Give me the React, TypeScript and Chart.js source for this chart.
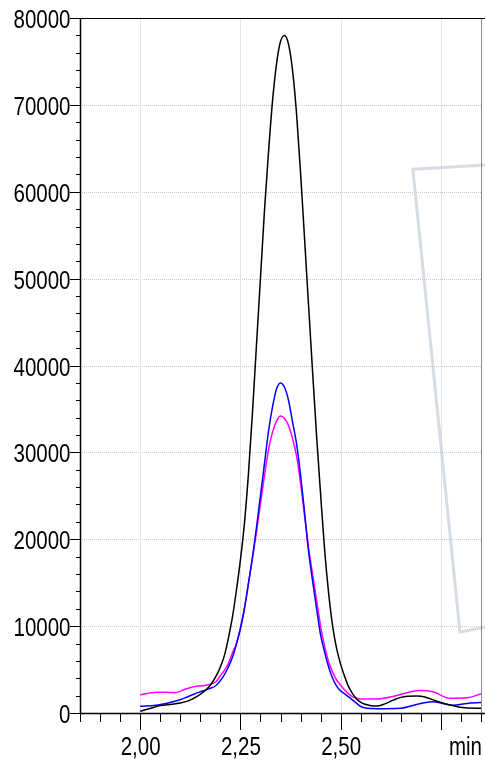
import { useEffect, useRef } from 'react';
import { Chart, registerables } from 'chart.js';
Chart.register(...registerables);

// Retention time (min) and signal for each trace
const blackTimes = [2.0, 2.02, 2.05, 2.08, 2.1, 2.12, 2.14, 2.16, 2.175, 2.19, 2.2, 2.21, 2.22, 2.23, 2.24, 2.25, 2.26, 2.27, 2.28, 2.29, 2.3, 2.31, 2.32, 2.33, 2.34, 2.35, 2.36, 2.37, 2.38, 2.39, 2.4, 2.41, 2.42, 2.43, 2.44, 2.45, 2.46, 2.47, 2.48, 2.49, 2.5, 2.51, 2.52, 2.53, 2.54, 2.555, 2.57, 2.59, 2.61, 2.63, 2.65, 2.69, 2.71, 2.74, 2.77, 2.81, 2.85];
const blackValues = [200, 450, 850, 1000, 1150, 1400, 1850, 2500, 3200, 4300, 5300, 6600, 8600, 11000, 14100, 17600, 21800, 27500, 34500, 42300, 50000, 57800, 64500, 70400, 74700, 77300, 78000, 77000, 74000, 69000, 62200, 54600, 46900, 39300, 31900, 25200, 18800, 13800, 10000, 7400, 5600, 4200, 3000, 2200, 1600, 1100, 900, 800, 1050, 1450, 1800, 1950, 1850, 1350, 950, 600, 550];

const blueTimes = [2.0, 2.04, 2.07, 2.0975, 2.12, 2.1475, 2.1725, 2.19, 2.206, 2.22, 2.23, 2.24, 2.25, 2.26, 2.27, 2.28, 2.29, 2.3, 2.31, 2.32, 2.33, 2.34, 2.35, 2.36, 2.37, 2.38, 2.39, 2.4, 2.41, 2.42, 2.43, 2.44, 2.45, 2.46, 2.47, 2.48, 2.49, 2.5, 2.51, 2.52, 2.535, 2.55, 2.565, 2.59, 2.65, 2.7, 2.73, 2.78, 2.815, 2.85];
const blueValues = [770, 900, 1150, 1500, 1900, 2400, 2800, 3200, 4100, 5300, 6400, 7900, 9700, 12000, 14900, 17900, 21300, 25000, 28700, 32400, 35200, 37300, 38000, 37500, 36000, 33500, 31000, 27400, 23100, 18600, 15200, 12000, 9000, 7000, 5300, 4000, 3100, 2550, 2200, 1850, 1300, 750, 550, 500, 550, 1100, 1300, 900, 1100, 1200];

const magentaTimes = [2.0, 2.04, 2.089, 2.11, 2.131, 2.164, 2.189, 2.2, 2.21, 2.22, 2.23, 2.24, 2.25, 2.26, 2.27, 2.28, 2.29, 2.3, 2.31, 2.32, 2.33, 2.34, 2.35, 2.36, 2.37, 2.38, 2.39, 2.4, 2.41, 2.42, 2.43, 2.44, 2.45, 2.46, 2.47, 2.48, 2.49, 2.5, 2.51, 2.52, 2.53, 2.54, 2.56, 2.59, 2.635, 2.6975, 2.73, 2.7725, 2.815, 2.85];
const magentaValues = [2100, 2400, 2350, 2700, 3000, 3200, 3600, 4300, 4900, 5700, 6900, 8000, 9800, 12000, 14900, 17800, 20800, 24100, 27300, 30300, 32300, 33600, 34200, 33900, 33100, 31600, 29600, 26500, 22700, 19000, 16000, 13000, 10000, 7700, 5900, 4700, 3800, 3200, 2650, 2200, 1850, 1700, 1600, 1600, 1950, 2600, 2450, 1700, 1750, 2200];

// Axis ticks / labels
const xMin = 1.85;
const xMax = 2.85;
const xMajorValues = [2.0, 2.25, 2.5, 2.75];
const xLabelValues = [2.0, 2.25, 2.5, 2.81];
const xLabels = ['2,00', '2,25', '2,50', 'min'];
const yMax = 80000;
const yLabelStep = 10000;
const yMinorStep = 2000;
const xMinorStep = 0.05;

// Light grey frame seen over the right side of the plot (time, signal)
const frameTimes = [2.87, 2.68, 2.7975, 2.87];
const frameValues = [63100, 62600, 9320, 9950];

const FONT = '25px "Liberation Sans", Arial, sans-serif';
const NARROW = 0.82;

const toPoints = (t: number[], v: number[]) => t.map((x, i) => ({ x, y: v[i] }));

const drawNarrow = (ctx: CanvasRenderingContext2D, text: string, x: number, y: number, align: CanvasTextAlign) => {
  ctx.save();
  ctx.translate(x, y);
  ctx.scale(NARROW, 1);
  ctx.textAlign = align;
  ctx.fillText(text, 0, 0);
  ctx.restore();
};

const decor = {
  id: 'decor',
  beforeDatasetsDraw(chart: any) {
    const { ctx, chartArea: a, scales } = chart;
    const xs = scales.x, ys = scales.y;
    ctx.save();
    // horizontal dotted grid
    ctx.strokeStyle = '#c8c8c8';
    ctx.lineWidth = 1;
    ctx.setLineDash([1, 1]);
    for (let v = yLabelStep; v < yMax; v += yLabelStep) {
      const py = Math.round(ys.getPixelForValue(v)) + 0.5;
      ctx.beginPath(); ctx.moveTo(a.left, py); ctx.lineTo(a.right, py); ctx.stroke();
    }
    ctx.setLineDash([]);
    ctx.strokeStyle = '#e4e4e4';
    xMajorValues.forEach((v) => {
      const px = Math.round(xs.getPixelForValue(v)) + 0.5;
      ctx.beginPath(); ctx.moveTo(px, a.top); ctx.lineTo(px, a.bottom); ctx.stroke();
    });
    // overlay frame
    ctx.strokeStyle = 'rgba(200,208,218,0.75)';
    ctx.lineWidth = 3;
    ctx.lineJoin = 'round';
    ctx.beginPath();
    frameTimes.forEach((t, i) => {
      const px = xs.getPixelForValue(t), py = ys.getPixelForValue(frameValues[i]);
      if (i === 0) ctx.moveTo(px, py); else ctx.lineTo(px, py);
    });
    ctx.stroke();
    ctx.restore();
  },
  afterDatasetsDraw(chart: any) {
    const { ctx, chartArea: a, scales, width } = chart;
    const xs = scales.x, ys = scales.y;
    ctx.save();
    ctx.lineWidth = 1;
    // right border
    ctx.strokeStyle = '#8a8a8a';
    ctx.beginPath(); ctx.moveTo(a.right + 0.5, a.top); ctx.lineTo(a.right + 0.5, a.bottom); ctx.stroke();
    ctx.strokeStyle = '#000';
    // top line
    ctx.beginPath(); ctx.moveTo(a.left, a.top + 0.5); ctx.lineTo(width, a.top + 0.5); ctx.stroke();
    // bottom axis
    ctx.lineWidth = 1.5;
    ctx.beginPath(); ctx.moveTo(a.left, a.bottom + 0.5); ctx.lineTo(width, a.bottom + 0.5); ctx.stroke();
    // left axis
    ctx.beginPath(); ctx.moveTo(a.left + 0.5, a.top); ctx.lineTo(a.left + 0.5, a.bottom + 1); ctx.stroke();
    ctx.lineWidth = 1;
    ctx.fillStyle = '#000';
    ctx.font = FONT;
    ctx.textBaseline = 'alphabetic';
    // y ticks and labels
    for (let v = 0; v <= yMax; v += yMinorStep) {
      const py = Math.round(ys.getPixelForValue(v)) + 0.5;
      const major = v % yLabelStep === 0;
      ctx.beginPath(); ctx.moveTo(a.left - (major ? 10 : 4), py); ctx.lineTo(a.left + (major ? 0 : 1), py); ctx.stroke();
      if (major) drawNarrow(ctx, String(v), a.left - 9.5, py + 9.5, 'right');
    }
    // x ticks
    for (let i = 0; ; i++) {
      const v = xMin + i * xMinorStep;
      if (v > xMax + 1e-6) break;
      const px = Math.round(xs.getPixelForValue(v)) + 0.5;
      const major = xMajorValues.some((m) => Math.abs(m - v) < 1e-6);
      ctx.beginPath(); ctx.moveTo(px, a.bottom + 1); ctx.lineTo(px, a.bottom + (major ? 17 : 9)); ctx.stroke();
    }
    // x labels
    xLabelValues.forEach((v, i) => {
      drawNarrow(ctx, xLabels[i], xs.getPixelForValue(v) + 0.5, a.bottom + 42, 'center');
    });
    ctx.restore();
  },
};

export default function App() {
  const ref = useRef<HTMLCanvasElement>(null);
  useEffect(() => {
    document.body.style.margin = '0';
    const chart = new Chart(ref.current as HTMLCanvasElement, {
      type: 'line',
      data: {
        datasets: [
          { label: 'A', data: toPoints(blackTimes, blackValues), borderColor: '#000000', borderWidth: 1.5, pointRadius: 0, cubicInterpolationMode: 'monotone', fill: false },
          { label: 'B', data: toPoints(blueTimes, blueValues), borderColor: '#0000ff', borderWidth: 1.5, pointRadius: 0, cubicInterpolationMode: 'monotone', fill: false },
          { label: 'C', data: toPoints(magentaTimes, magentaValues), borderColor: '#ff00ff', borderWidth: 1.5, pointRadius: 0, cubicInterpolationMode: 'monotone', fill: false },
        ],
      },
      options: {
        animation: false,
        responsive: false,
        devicePixelRatio: 1,
        layout: { padding: { top: 18, right: 4, left: 0, bottom: 0 } },
        plugins: { legend: { display: false }, tooltip: { enabled: false } },
        scales: {
          x: {
            type: 'linear',
            min: xMin,
            max: xMax,
            grid: { display: false },
            border: { display: false },
            ticks: { display: false },
            afterFit: (s: any) => { s.height = 48; s.paddingLeft = 0; s.paddingRight = 0; },
          },
          y: {
            min: 0,
            max: yMax,
            grid: { display: false },
            border: { display: false },
            ticks: { display: false, stepSize: yLabelStep },
            afterFit: (s: any) => { s.width = 80; s.paddingTop = 0; s.paddingBottom = 0; },
          },
        },
      },
      plugins: [decor],
    } as any);
    return () => chart.destroy();
  }, []);
  return (
    <div style={{ width: 485, height: 761 }}>
      <canvas ref={ref} width={485} height={761} style={{ display: 'block' }} />
    </div>
  );
}
